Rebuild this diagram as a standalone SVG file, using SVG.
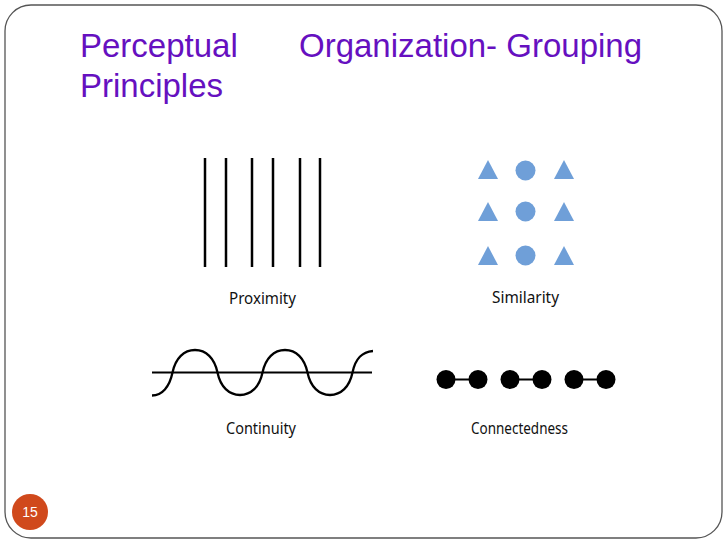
<svg xmlns="http://www.w3.org/2000/svg" width="728" height="546" viewBox="0 0 728 546">
<style>
.title{font-family:"Liberation Sans",Arial,sans-serif;font-size:33px;fill:#6610C0}
.lbl{font-family:"Noto Sans","Open Sans",sans-serif;font-size:15.5px;fill:#111;text-anchor:middle}
.bar{stroke:#000;stroke-width:2.5}
.blue{fill:#6F9FD8}
.dot{fill:#000}
</style>
<rect x="5" y="5" width="717" height="533" rx="26" ry="26" fill="#fff" stroke="#555" stroke-width="1.3"/>
<g id="title">
<text class="title" x="80" y="57">Perceptual</text>
<text class="title" x="299" y="57">Organization- Grouping</text>
<text class="title" x="80" y="97">Principles</text>
</g>
<g id="proximity">
<line class="bar" x1="205" y1="158" x2="205" y2="267"/>
<line class="bar" x1="226" y1="158" x2="226" y2="267"/>
<line class="bar" x1="252" y1="158" x2="252" y2="267"/>
<line class="bar" x1="273" y1="158" x2="273" y2="267"/>
<line class="bar" x1="300" y1="158" x2="300" y2="267"/>
<line class="bar" x1="320" y1="158" x2="320" y2="267"/>
<text class="lbl" x="262.5" y="304" textLength="67" lengthAdjust="spacingAndGlyphs">Proximity</text>
</g>
<g id="similarity">
<polygon class="blue" points="488,160 478,179 498,179"/>
<circle class="blue" cx="525.5" cy="170.5" r="10"/>
<polygon class="blue" points="564,160 554,179 574,179"/>
<polygon class="blue" points="488,202 478,221 498,221"/>
<circle class="blue" cx="525.5" cy="211.5" r="10"/>
<polygon class="blue" points="564,202 554,221 574,221"/>
<polygon class="blue" points="488,246 478,265 498,265"/>
<circle class="blue" cx="525.5" cy="255.5" r="10"/>
<polygon class="blue" points="564,246 554,265 574,265"/>
<text class="lbl" x="525.5" y="303" textLength="67" lengthAdjust="spacingAndGlyphs">Similarity</text>
</g>
<g id="continuity">
<line x1="152" y1="372.5" x2="372" y2="372.5" stroke="#000" stroke-width="2"/>
<path d="M152,395.5 C162,395.5 169.5,387 172.5,372.5 C175.5,358 184,350 195,350 C206,350 214.5,358 217.5,372.5 C220.5,387 229,395 240,395 C251,395 259.5,387 262.5,372.5 C265.5,358 274,350 285,350 C296,350 304.5,358 307.5,372.5 C310.5,387 319,395 330,395 C341,395 349.5,387 352.5,372.5 C355.5,358 362,352 373,351" fill="none" stroke="#000" stroke-width="2.3"/>
<text class="lbl" x="261" y="434" textLength="70" lengthAdjust="spacingAndGlyphs">Continuity</text>
</g>
<g id="connectedness">
<line x1="446" y1="379.5" x2="478" y2="379.5" stroke="#000" stroke-width="2"/>
<line x1="510" y1="379.5" x2="542" y2="379.5" stroke="#000" stroke-width="2"/>
<line x1="574" y1="379.5" x2="606" y2="379.5" stroke="#000" stroke-width="2"/>
<circle class="dot" cx="446" cy="379.5" r="9.5"/>
<circle class="dot" cx="478" cy="379.5" r="9.5"/>
<circle class="dot" cx="510" cy="379.5" r="9.5"/>
<circle class="dot" cx="542" cy="379.5" r="9.5"/>
<circle class="dot" cx="574" cy="379.5" r="9.5"/>
<circle class="dot" cx="606" cy="379.5" r="9.5"/>
<text class="lbl" x="519.5" y="434" textLength="97" lengthAdjust="spacingAndGlyphs">Connectedness</text>
</g>
<g id="page-number">
<circle cx="30" cy="512" r="18" fill="#D0491C"/>
<text x="30" y="517" font-family="'Liberation Sans',Arial,sans-serif" font-size="14" fill="#fff" text-anchor="middle">15</text>
</g>
</svg>
